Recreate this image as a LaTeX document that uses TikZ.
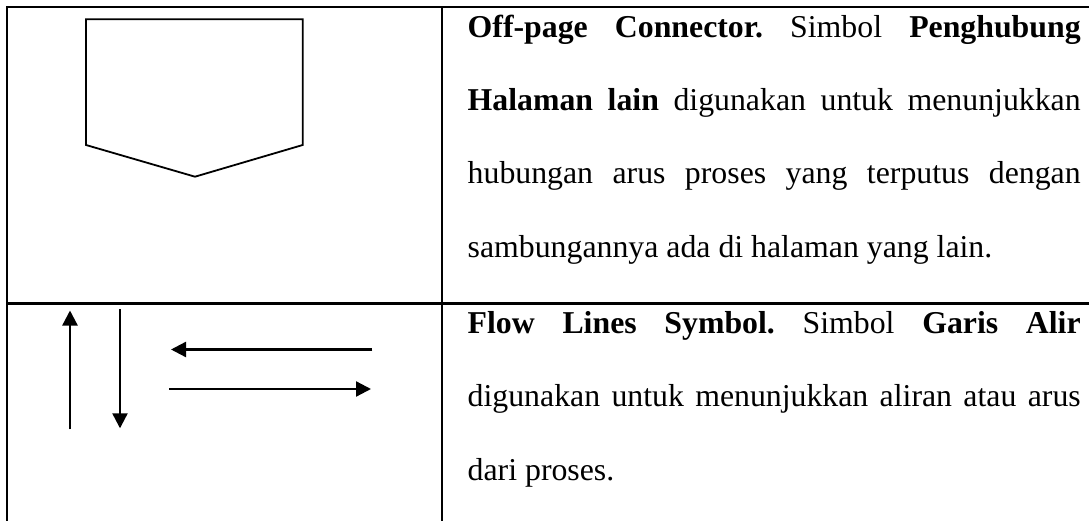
\documentclass[tikz,border=0pt]{standalone}
\usepackage{fontspec}
\setmainfont{Liberation Serif}
\usetikzlibrary{arrows.meta}

% one justified line of the description column
\newcommand\justline[1]{\hbox to 613pt{\frenchspacing\spaceskip=0.25em plus 1fil\relax #1}}

\begin{document}
\begin{tikzpicture}[x=1pt,y=-1pt,
  rule/.style={line width=2.4pt},
  symbol/.style={line width=1.8pt, line join=miter},
  flow/.style={line width=2.3pt, -{Triangle[length=15pt,width=15pt]}},
  desc/.style={anchor=base west, inner sep=0pt,
    font=\fontsize{31.8}{38}\selectfont}]
\useasboundingbox (0,0) rectangle (1089,521);

% table rules
\draw[rule] (1089,7.3) -- (7,7.3) -- (7,521);
\draw[rule] (441.7,7.3) -- (441.7,521);
\draw[rule] (7,303.3) -- (1089,303.3);

% off-page connector symbol
\draw[symbol] (86,19.3) -- (302.7,19.3) -- (302.7,145) -- (195,176.7)
  -- (86,145) -- cycle;

% flow line symbols
\coordinate (upA) at (70,429.3);   \coordinate (upB) at (70,310.5);
\coordinate (dnA) at (120,309.3);  \coordinate (dnB) at (120,428.3);
\coordinate (ltA) at (372.3,349.5);\coordinate (ltB) at (171,349.5);
\coordinate (rtA) at (169.3,389);  \coordinate (rtB) at (371,389);
\draw[flow] (upA) -- (upB);
\draw[flow] (dnA) -- (dnB);
\draw[flow] (ltA) -- (ltB);
\draw[flow] (rtA) -- (rtB);

% description of the off-page connector
\node[desc] (a1) at (467.5,37.7)
  {\justline{\textbf{Off-page} \textbf{Connector.} Simbol \textbf{Penghubung}}};
\node[desc] (a2) at (467.5,110.8)
  {\justline{\textbf{Halaman} \textbf{lain} digunakan untuk menunjukkan}};
\node[desc] (a3) at (467.5,183.6)
  {\justline{hubungan arus proses yang terputus dengan}};
\node[desc] (a4) at (467.5,257.8)
  {sambungannya ada di halaman yang lain.};

% description of the flow lines
\node[desc] (b1) at (467.5,333.3)
  {\justline{\textbf{Flow} \textbf{Lines} \textbf{Symbol.} Simbol \textbf{Garis} \textbf{Alir}}};
\node[desc] (b2) at (467.5,406.7)
  {\justline{digunakan untuk menunjukkan aliran atau arus}};
\node[desc] (b3) at (467.5,480)
  {dari proses.};
\end{tikzpicture}
\end{document}
